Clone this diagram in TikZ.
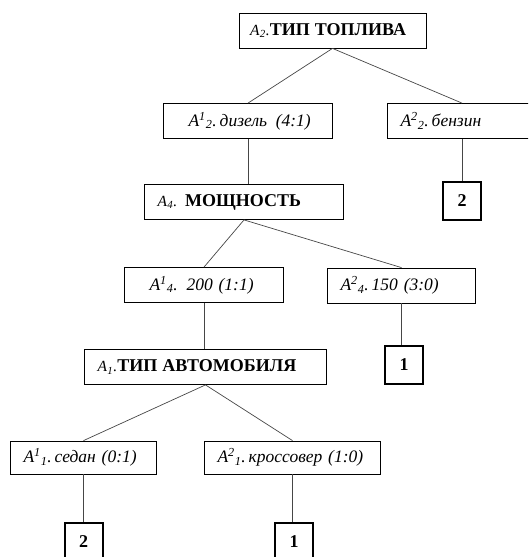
\documentclass[tikz,border=0pt]{standalone}
\usepackage{fontspec}
\setmainfont{Liberation Serif}
\usetikzlibrary{positioning}
\definecolor{edgegray}{RGB}{70,70,70}
\newcommand{\attrA}[2]{\textit{A\textsuperscript{#1}\textsubscript{#2}.}}
\newcommand{\capsfont}{\fontsize{18}{20}\selectfont\bfseries}
\tikzset{
    attrbox/.style={
        draw=black,line width=0.8pt,minimum height=35pt,
        inner xsep=13pt,inner ysep=2pt,align=left,
        font=\fontsize{15.5}{18}\selectfont
    },
    valbox/.style={
        attrbox,font=\fontsize{17.5}{20}\selectfont\itshape
    },
    leafbox/.style={
        draw=black,line width=2pt,minimum width=38pt,minimum height=38pt,
        inner sep=0pt,font=\fontsize{18}{20}\selectfont\bfseries
    },
    link/.style={
        draw=edgegray,line width=0.7pt
    }
}

\begin{document}
\begin{tikzpicture}[x=1pt,y=-1pt]
\useasboundingbox (0,0) rectangle (528,557);
\clip (0,0) rectangle (528,557);

% attribute nodes
\node[attrbox,text width=165pt,inner xsep=11pt] (fuel) at (332.5,30.5)
{\attrA{}{2}{\capsfont ТИП ТОПЛИВА}};
\node[valbox,text width=143pt] (diesel) at (248,121)
{\hspace*{12pt}\attrA{1}{2}\,дизель\ \,(4:1)};
\node[valbox,text width=123pt] (petrol) at (462,121)
{\attrA{2}{2}\,бензин};
\node[attrbox,text width=173pt] (power) at (244,202)
{\attrA{}{4} {\capsfont МОЩНОСТЬ}};
\node[valbox,text width=133pt] (p200) at (204,285)
{\hspace*{12pt}\attrA{1}{4} 200 (1:1)};
\node[valbox,text width=122pt] (p150) at (401.5,285.5)
{\attrA{2}{4}\,150 (3:0)};
\node[attrbox,text width=216pt] (cartype) at (205.5,367)
{\attrA{}{1}{\capsfont ТИП АВТОМОБИЛЯ}};
\node[valbox,text width=120pt,minimum height=33pt] (sedan) at (83.5,457.5)
{\attrA{1}{1}\,седан (0:1)};
\node[valbox,text width=150pt,minimum height=33pt] (cross) at (292.5,457.5)
{\attrA{2}{1}\,кроссовер (1:0)};

% class leaves
\node[leafbox] (leafA) at (462,201) {2};
\node[leafbox] (leafB) at (404,365) {1};
\node[leafbox] (leafC) at (83.5,542) {2};
\node[leafbox] (leafD) at (294,542) {1};

% connectors
\draw[link] (fuel.south) -- (diesel.north);
\draw[link] (fuel.south) -- (petrol.north);
\draw[link] (diesel.south) -- (power.north -| diesel.south);
\draw[link] (petrol.south) -- (leafA.north);
\draw[link] (power.south) -- (p200.north);
\draw[link] (power.south) -- (p150.north);
\draw[link] (p200.south) -- (cartype.north -| p200.south);
\draw[link] (p150.south) -- (leafB.north -| p150.south);
\draw[link] (cartype.south) -- (sedan.north);
\draw[link] (cartype.south) -- (cross.north);
\draw[link] (sedan.south) -- (leafC.north);
\draw[link] (cross.south) -- (leafD.north -| cross.south);

\end{tikzpicture}
\end{document}
